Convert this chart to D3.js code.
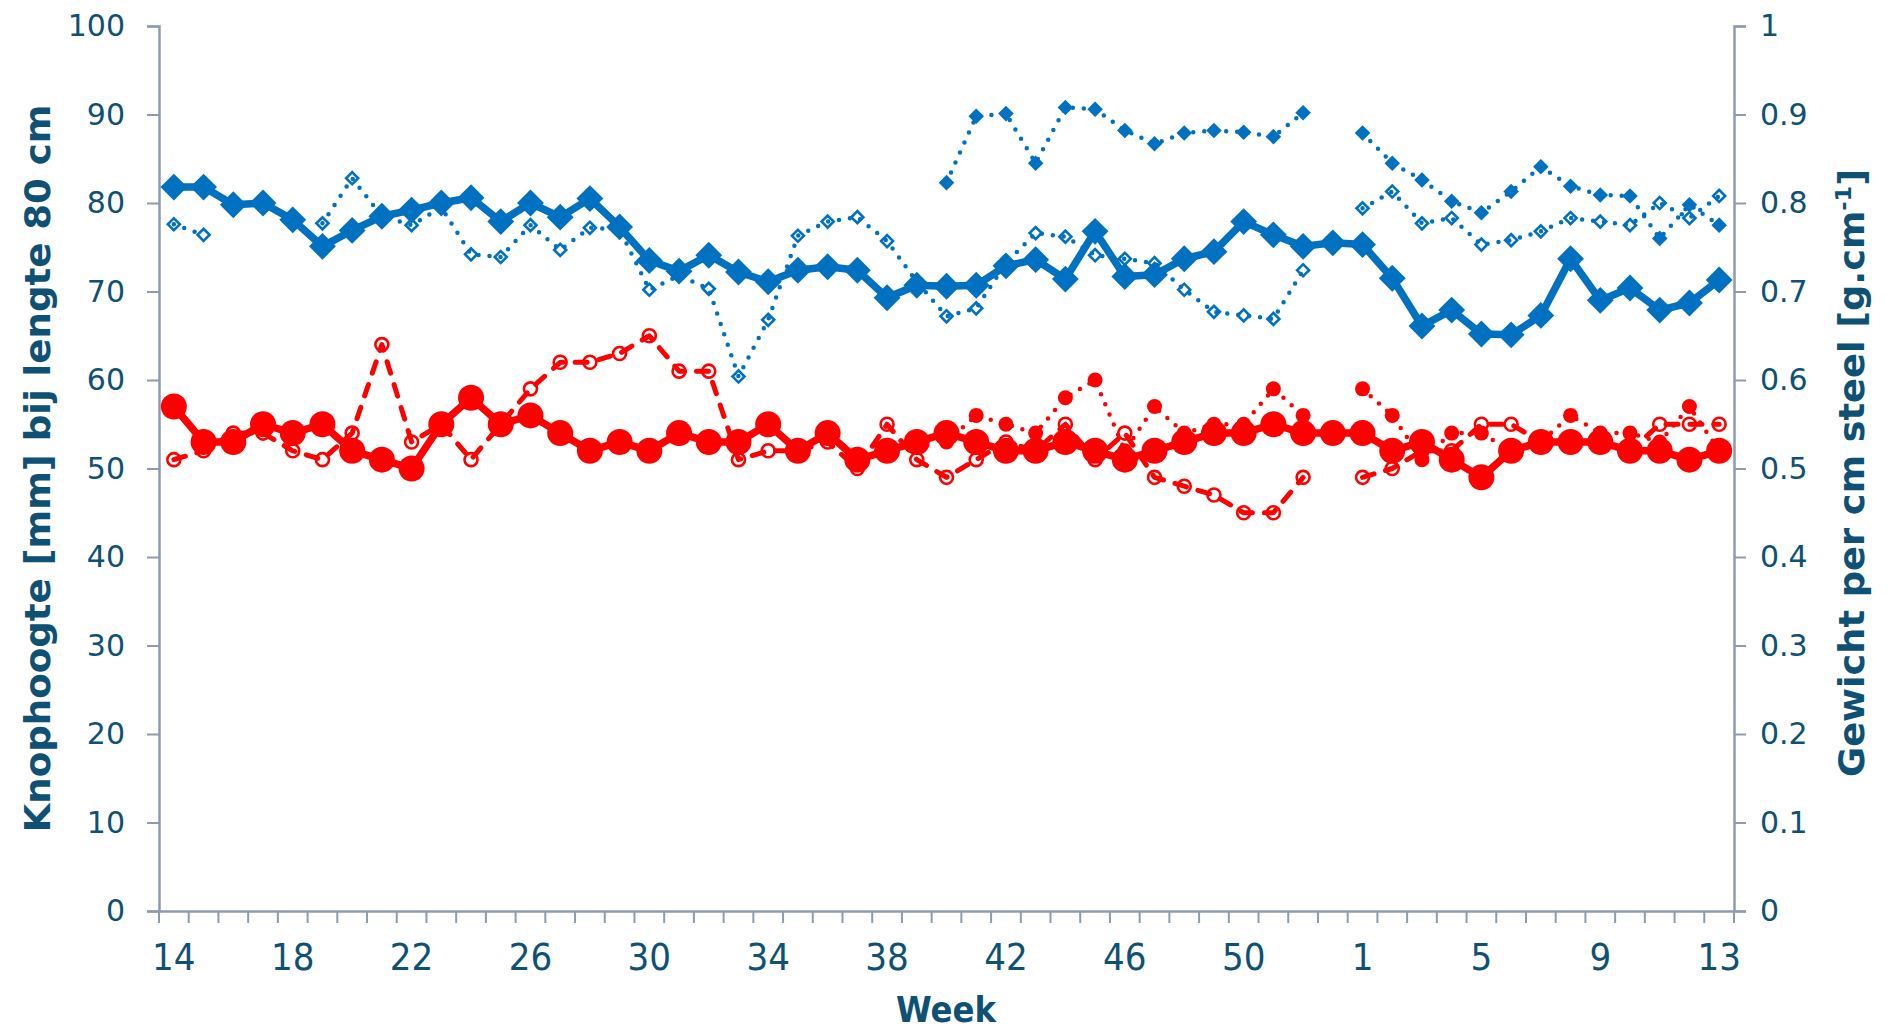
<!DOCTYPE html>
<html>
<head>
<meta charset="utf-8">
<script src="https://cdn.jsdelivr.net/npm/d3@7"></script>
<style>
  html, body { margin: 0; padding: 0; background: #ffffff; }
  svg { display: block; }
</style>
</head>
<body>
<svg id="chart" width="1888" height="1033"></svg>
<script>
// ---------- DATA ----------
const weeks = ["14","15","16","17","18","19","20","21","22","23","24","25","26","27","28","29","30","31","32","33",
  "34","35","36","37","38","39","40","41","42","43","44","45","46","47","48","49","50","51","52","53",
  "1","2","3","4","5","6","7","8","9","10","11","12","13"];
const weekTickLabels = ["14","18","22","26","30","34","38","42","46","50","1","5","9","13"];
const leftTicks = [0,10,20,30,40,50,60,70,80,90,100];
const rightTicks = [0,0.1,0.2,0.3,0.4,0.5,0.6,0.7,0.8,0.9,1];

// Knophoogte [mm] (left axis) – thick line with large diamonds
const knopA = [81.8,81.8,79.8,80.0,78.1,75.1,76.9,78.5,79.2,80.0,80.6,77.9,80.0,78.4,80.5,77.3,73.5,72.3,74.1,72.2,
  71.1,72.4,72.8,72.4,69.3,70.7,70.6,70.7,72.9,73.6,71.4,76.8,71.7,71.9,73.7,74.5,77.9,76.4,75.1,75.5,
  75.3,71.5,66.1,67.9,65.2,65.1,67.3,73.7,69.0,70.4,67.9,68.7,71.3];
// Knophoogte – dotted line with open diamonds
const knopB = [77.6,76.4,null,null,null,77.7,82.8,78.5,77.5,79.5,74.2,73.9,77.5,74.7,77.2,77.0,70.2,71.8,70.3,60.4,
  66.8,76.3,77.9,78.4,75.7,71.1,67.2,68.1,73.2,76.6,76.2,74.1,73.7,73.2,70.2,67.7,67.3,66.9,72.4,null,
  79.4,81.3,77.7,78.3,75.3,75.8,76.8,78.3,77.9,77.5,80.0,78.3,80.8];
// Knophoogte – dotted line with small filled diamonds
const knopC = [null,null,null,null,null,null,null,null,null,null,null,null,null,null,null,null,null,null,null,null,
  null,null,null,null,null,null,82.3,89.8,90.1,84.5,90.8,90.6,88.2,86.7,87.9,88.2,88.0,87.5,90.2,null,
  87.9,84.5,82.6,80.2,78.9,81.3,84.1,81.9,80.9,80.8,76.0,79.8,77.5];

// Gewicht per cm steel [g/cm] (right axis) – thick line with large circles
const gewA = [0.57,0.53,0.53,0.55,0.54,0.55,0.52,0.51,0.50,0.55,0.58,0.55,0.56,0.54,0.52,0.53,0.52,0.54,0.53,0.53,
  0.55,0.52,0.54,0.51,0.52,0.53,0.54,0.53,0.52,0.52,0.53,0.52,0.51,0.52,0.53,0.54,0.54,0.55,0.54,0.54,
  0.54,0.52,0.53,0.51,0.49,0.52,0.53,0.53,0.53,0.52,0.52,0.51,0.52];
// Gewicht – dashed line with open circles
const gewB = [0.51,0.52,0.54,0.54,0.52,0.51,0.54,0.64,0.53,0.55,0.51,0.55,0.59,0.62,0.62,0.63,0.65,0.61,0.61,0.51,
  0.52,0.52,0.53,0.50,0.55,0.51,0.49,0.51,0.53,0.52,0.55,0.51,0.54,0.49,0.48,0.47,0.45,0.45,0.49,null,
  0.49,0.50,0.52,0.52,0.55,0.55,0.53,0.53,0.53,0.52,0.55,0.55,0.55];
// Gewicht – dotted line with small filled circles
const gewC = [null,null,null,null,null,null,null,null,null,null,null,null,null,null,null,null,null,null,null,null,
  null,null,null,null,null,null,0.53,0.56,0.55,0.54,0.58,0.60,0.52,0.57,0.54,0.55,0.55,0.59,0.56,null,
  0.59,0.56,0.51,0.54,0.54,0.52,0.53,0.56,0.54,0.54,0.53,0.57,0.52];

// ---------- LAYOUT ----------
const BLUE = "#0070C0", RED = "#FF0000", AXIS = "#8E9BAE", TXT = "#0E5174";
const L = 159, R = 1734, T = 26, B = 911;

const svg = d3.select("#chart");
const x = d3.scaleBand().domain(weeks).range([L, R]).padding(0);
const xc = w => x(w) + x.bandwidth() / 2;
const yL = d3.scaleLinear().domain([0, 100]).range([B, T]);
const yR = d3.scaleLinear().domain([0, 1]).range([B, T]);

// ---------- AXES ----------
const gLeft = svg.append("g").attr("transform", `translate(${L},0)`)
  .call(d3.axisLeft(yL).tickValues(leftTicks).tickSize(12).tickPadding(22).tickFormat(d3.format("d")));
const gRight = svg.append("g").attr("transform", `translate(${R},0)`)
  .call(d3.axisRight(yR).tickValues(rightTicks).tickSize(12).tickPadding(14).tickFormat(d => String(+d.toFixed(1))));
[gLeft, gRight].forEach(g => {
  g.select(".domain").attr("stroke", AXIS).attr("stroke-width", 2.5);
  g.selectAll(".tick line").attr("stroke", AXIS).attr("stroke-width", 2);
  g.selectAll(".tick text").attr("fill", TXT).style("font-family", "'DejaVu Sans', Verdana, sans-serif")
    .style("font-size", "30px");
});

const gBottom = svg.append("g").attr("transform", `translate(0,${B})`)
  .call(d3.axisBottom(x).tickValues(weekTickLabels).tickSize(0).tickPadding(32));
gBottom.select(".domain").attr("stroke", AXIS).attr("stroke-width", 2.5);
gBottom.selectAll(".tick text").attr("fill", TXT)
  .style("font-family", "'DejaVu Sans Condensed', 'DejaVu Sans', sans-serif").style("font-size", "38px");
// category boundary ticks
const bounds = weeks.map(w => x(w)).concat([x(weeks[weeks.length - 1]) + x.bandwidth()]);
gBottom.selectAll("line.bt").data(bounds).enter().append("line").attr("class", "bt")
  .attr("x1", d => d).attr("x2", d => d).attr("y1", 0).attr("y2", 12)
  .attr("stroke", AXIS).attr("stroke-width", 2);

// ---------- AXIS TITLES ----------
const titleFont = "'DejaVu Sans Condensed', 'DejaVu Sans', sans-serif";
svg.append("text").attr("transform", `translate(50,${(T + B) / 2}) rotate(-90)`)
  .attr("text-anchor", "middle").attr("fill", TXT).style("font-family", titleFont)
  .style("font-weight", "bold").style("font-size", "36px")
  .attr("textLength", 728).attr("lengthAdjust", "spacingAndGlyphs")
  .text("Knophoogte [mm] bij lengte 80 cm");

const rt = svg.append("text").attr("transform", `translate(1864,473) rotate(-90)`)
  .attr("text-anchor", "middle").attr("fill", TXT).style("font-family", titleFont)
  .style("font-weight", "bold").style("font-size", "36px")
  .attr("textLength", 608).attr("lengthAdjust", "spacingAndGlyphs");
rt.append("tspan").text("Gewicht per cm steel [g.cm");
rt.append("tspan").attr("dy", -13).style("font-size", "22px").text("-1");
rt.append("tspan").attr("dy", 13).text("]");

svg.append("text").attr("x", 946).attr("y", 1022).attr("text-anchor", "middle").attr("fill", TXT)
  .style("font-family", titleFont).style("font-weight", "bold").style("font-size", "36px").text("Week");

// ---------- SERIES ----------
const plot = svg.append("g");
function series(values, yScale, opt) {
  const pts = weeks.map((w, i) => ({ w, v: values[i] }));
  const line = d3.line().defined(d => d.v != null).x(d => xc(d.w)).y(d => yScale(d.v));
  plot.append("path").datum(pts).attr("d", line).attr("fill", "none")
    .attr("stroke", opt.color).attr("stroke-width", opt.width)
    .attr("stroke-dasharray", opt.dash || null).attr("stroke-linecap", opt.cap || "butt")
    .attr("stroke-linejoin", "round");
  const sym = d3.symbol().type(opt.shape === "diamond" ? d3.symbolSquare : d3.symbolCircle).size(opt.size);
  plot.append("g").selectAll("path").data(pts.filter(d => d.v != null)).enter().append("path")
    .attr("d", sym)
    .attr("transform", d => `translate(${xc(d.w)},${yScale(d.v)})` + (opt.shape === "diamond" ? " rotate(45)" : ""))
    .attr("fill", opt.filled ? opt.color : "none")
    .attr("stroke", opt.color).attr("stroke-width", opt.filled ? 0 : 2.6);
}

series(gewB, yR, { color: RED, width: 5, dash: "12 12", cap: "round", shape: "circle", size: Math.PI * 6.5 * 6.5, filled: false });
series(gewC, yR, { color: RED, width: 4.5, dash: "0 11", cap: "round", shape: "circle", size: Math.PI * 7.5 * 7.5, filled: true });
series(knopB, yL, { color: BLUE, width: 4.5, dash: "0 11", cap: "round", shape: "diamond", size: 8.5 * 8.5, filled: false });
series(knopC, yL, { color: BLUE, width: 4.5, dash: "0 11", cap: "round", shape: "diamond", size: 11 * 11, filled: true });
series(gewA, yR, { color: RED, width: 7.5, shape: "circle", size: Math.PI * 13 * 13, filled: true });
series(knopA, yL, { color: BLUE, width: 7.5, shape: "diamond", size: 19 * 19, filled: true });
</script>
</body>
</html>
